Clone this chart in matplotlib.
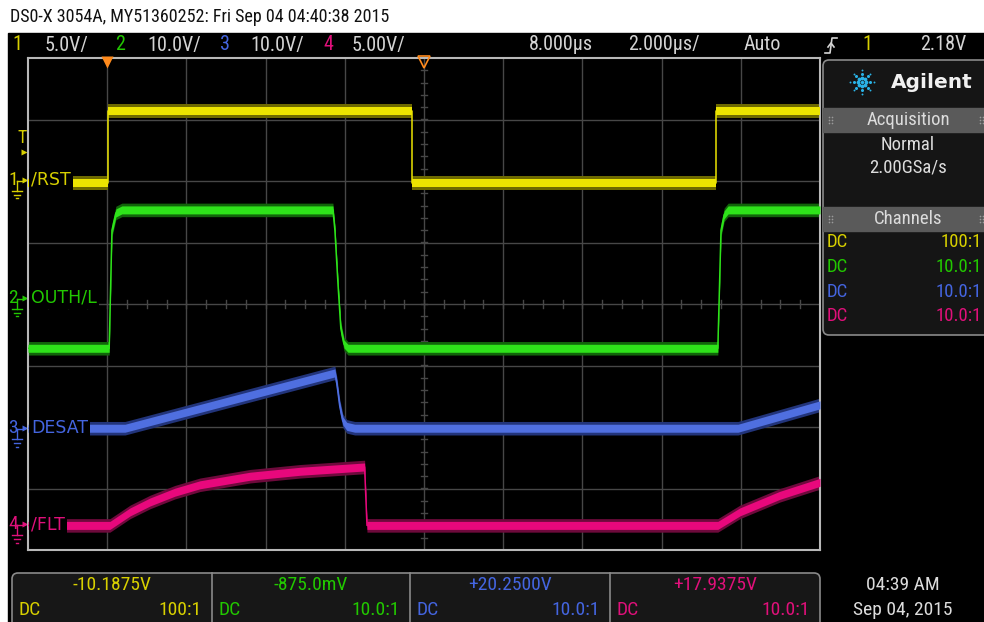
import matplotlib
matplotlib.use("Agg")
import matplotlib.pyplot as plt
from matplotlib import font_manager as fm
from matplotlib.patches import Rectangle, FancyBboxPatch
from matplotlib.transforms import blended_transform_factory
import numpy as np

W, H = 984, 622

# screen: 2 us/div, 8 us delay -> -2 .. 18 us; vertical in divisions from centre
t_left, t_right = -2.0, 18.0

rst_t = [-2.0, 0.02, 0.02, 7.70, 7.70, 15.37, 15.37, 18.0]
rst_y = [1.97, 1.97, 3.14, 3.14, 1.97, 1.97, 3.14, 3.14]

outh_t = [-2.0, 0.05, 0.12, 0.22, 0.37, 5.70, 5.75, 5.83, 5.90, 5.98, 6.08, 15.42, 15.50, 15.58, 15.68, 18.0]
outh_y = [-0.72, -0.72, 1.20, 1.48, 1.53, 1.53, 1.20, 0.30, -0.40, -0.65, -0.72, -0.72, 1.20, 1.45, 1.53, 1.53]

desat_t = [-2.0, 0.45, 5.75, 5.80, 5.87, 5.95, 6.05, 6.25, 15.93, 18.0]
desat_y = [-2.02, -2.02, -1.12, -1.30, -1.65, -1.90, -1.99, -2.02, -2.02, -1.64]

flt_t = [-2.0, 0.07, 0.58, 1.08, 1.71, 2.34, 3.61, 4.87, 6.50, 6.56, 15.42, 15.98, 16.99, 18.0]
flt_y = [-3.60, -3.60, -3.38, -3.22, -3.06, -2.94, -2.80, -2.72, -2.65, -3.60, -3.60, -3.38, -3.11, -2.90]

ch_names = ['/RST', 'OUTH/L', 'DESAT', '/FLT']
ch_marks = [2.02, 0.10, -2.02, -3.58]
ch_colors = ['#ece400', '#2ee31a', '#4f6fe0', '#e8087c']
ch_glow = ['#6e6a00', '#11640a', '#22347a', '#6e0a3c']
ch_text = ['#d8d000', '#22c800', '#4465e0', '#e0107a']

ch_scale = ['5.0V/', '10.0V/', '10.0V/', '5.00V/']
meas_vals = ['-10.1875V', '-875.0mV', '+20.2500V', '+17.9375V']
probe = ['100:1', '10.0:1', '10.0:1', '10.0:1']


def narrow_font():
    # the scope uses a condensed face; take whatever condensed sans is installed
    prefs = ['liberation sans narrow', 'dejavu sans condensed', 'roboto condensed',
             'noto sans condensed', 'open sans condensed']
    found = {}
    for f in fm.fontManager.ttflist:
        nm = f.name.lower()
        st = str(f.stretch).lower()
        if f.style != 'normal' or f.weight not in (400, 'normal', 'regular'):
            continue
        if 'narrow' in nm or 'condensed' in nm or st in ('condensed', 'semi-condensed'):
            key = nm if nm in prefs else st
            found.setdefault(key, f.fname)
    for p in prefs + ['condensed', 'semi-condensed']:
        if p in found:
            return fm.FontProperties(fname=found[p]), 1.0
    for f in found.values():
        return fm.FontProperties(fname=f), 1.0
    return fm.FontProperties(family='DejaVu Sans'), 0.8


NARROW, K = narrow_font()


def nt(x, y, s, size, **kw):
    fp = NARROW.copy()
    fp.set_size(size * K)
    return ov.text(x, y, s, fontproperties=fp, va='center', **kw)


fig = plt.figure(figsize=(W / 100, H / 100), dpi=100, facecolor='white')

# overlay in pixel coordinates for the instrument chrome
ov = fig.add_axes([0, 0, 1, 1], zorder=0)
ov.set_xlim(0, W)
ov.set_ylim(H, 0)
ov.axis('off')
ov.add_patch(Rectangle((8, 33), W - 8, H - 33, color='black'))

nt(10, 17, 'DS0-X 3054A, MY51360252: Fri Sep 04 04:40:38 2015', 13, color='#111111')

# top status bar
bar_y = 45
gray = '#d4d4d4'
for i, (x0, xs) in enumerate([(17, 45), (120, 147), (225, 250), (328, 352)]):
    nt(x0, bar_y, str(i + 1), 14.5, color=ch_text[i], ha='center')
    nt(xs, bar_y, ch_scale[i], 14.5, color=gray)
nt(529, bar_y, '8.000µs', 14.5, color=gray)
nt(628, bar_y, '2.000µs/', 14.5, color=gray)
nt(744, bar_y, 'Auto', 14.5, color=gray)
ov.plot([825, 830, 832, 837], [53, 53, 38, 38], color=gray, lw=1.2)
ov.plot([828, 831, 834], [47, 43, 47], color=gray, lw=1.2)
nt(867, bar_y, '1', 14.5, color=ch_text[0], ha='center')
nt(920, bar_y, '2.18V', 14.5, color=gray)

# right side panel
ov.add_patch(FancyBboxPatch((823, 60), 175, 275, boxstyle='round,pad=0,rounding_size=6',
                            facecolor='#151515', edgecolor='#8a8a8a', lw=1.2))
ov.text(932, 82, 'Agilent', color='#f0f0f0', fontsize=14.5, fontweight='bold', va='center', ha='center')
for ang in np.arange(0, 360, 45):
    for r, s in [(4, 5), (8, 4), (12, 2.5)]:
        ov.plot(862 + r * np.cos(np.radians(ang)), 82 + r * np.sin(np.radians(ang)), 'o',
                color='#2ab2e6', ms=s * 0.55, mec='none')
ov.plot(862, 82, 'o', color='#2ab2e6', ms=2.5, mec='none')
for y0, y1, label in [(108, 132, 'Acquisition'), (207, 231, 'Channels')]:
    ym = (y0 + y1) / 2
    ov.add_patch(Rectangle((823, y0), 175, y1 - y0, color='#5a5a5a'))
    nt(908, ym, label, 13.5, color='#dcdcdc', ha='center')
    for dx in (829, 980):
        ov.plot([dx, dx + 3] * 3, [ym - 3] * 2 + [ym] * 2 + [ym + 3] * 2,
                'o', color='#9a9a9a', ms=1.2, mec='none')
nt(908, 145, 'Normal', 13.5, color='#dcdcdc', ha='center')
nt(908, 168, '2.00GSa/s', 13.5, color='#dcdcdc', ha='center')
for i, yy in enumerate([242, 267, 292, 316]):
    nt(827, yy, 'DC', 13.5, color=ch_text[i])
    nt(982, yy, probe[i], 13.5, color=ch_text[i], ha='right')

# bottom measurement boxes
ov.add_patch(FancyBboxPatch((12, 573), 808, 60, boxstyle='round,pad=0,rounding_size=6',
                            facecolor='#171717', edgecolor='#8a8a8a', lw=1.2))
for xd in (212, 410, 610):
    ov.plot([xd, xd], [573, H], color='#8a8a8a', lw=1.2)
for i, (x0, x1) in enumerate([(12, 212), (212, 410), (410, 610), (610, 820)]):
    nt((x0 + x1) / 2, 585, meas_vals[i], 14, color=ch_text[i], ha='center')
    nt(x0 + 7, 610, 'DC', 14, color=ch_text[i])
    nt(x1 - 10, 610, probe[i], 14, color=ch_text[i], ha='right')
nt(903, 585, '04:39 AM', 14, color='#dcdcdc', ha='center')
nt(903, 610, 'Sep 04, 2015', 14, color='#dcdcdc', ha='center')

# scope graticule
ax = fig.add_axes([28 / W, 72 / H, 792 / W, 492 / H], zorder=1)
ax.set_facecolor('black')
ax.set_xlim(t_left, t_right)
ax.set_ylim(-4, 4)
ax.set_xticks([])
ax.set_yticks([])
for sp in ax.spines.values():
    sp.set_color('#b8b8b8')
    sp.set_linewidth(1.5)
for tx in np.arange(t_left + 2, t_right, 2):
    ax.axvline(tx, color='#474747', lw=1, zorder=1)
for dy in range(-3, 4):
    ax.axhline(dy, color='#474747', lw=1, zorder=1)
for tx in np.arange(t_left, t_right, 0.5):
    ax.plot([tx, tx], [-0.06, 0.06], color='#474747', lw=1, zorder=1)
for dy in np.arange(-4, 4, 0.2):
    ax.plot([7.92, 8.08], [dy, dy], color='#474747', lw=1, zorder=1)

traces = [(rst_t, rst_y), (outh_t, outh_y), (desat_t, desat_y), (flt_t, flt_y)]
for i, (tt, yy) in enumerate(traces):
    tt = np.array(tt)
    yy = np.array(yy)
    ax.fill_between(tt, yy - 0.11, yy + 0.11, color=ch_glow[i], lw=0, zorder=2)
    ax.fill_between(tt, yy - 0.065, yy + 0.065, color=ch_colors[i], lw=0, zorder=3)
    ax.plot(tt, yy, color=ch_colors[i], lw=1.1, zorder=3)
    ax.text(-1.93, ch_marks[i], ch_names[i], color=ch_text[i], family='DejaVu Sans', fontsize=12.5,
            va='center', ha='left', zorder=5, bbox=dict(facecolor='black', edgecolor='none', pad=1.5))

# trigger point / delay markers
ax.plot(0, 3.94, 'v', color='#ff8a1c', ms=8, mec='none', zorder=6, clip_on=False)
ax.plot(8, 3.94, 'v', mfc='none', mec='#ff8a1c', mew=1.2, ms=8, zorder=6, clip_on=False)

# left channel markers
tr = blended_transform_factory(ov.transData, ax.transData)
for i, g in enumerate(ch_marks):
    c = ch_text[i]
    mk = nt(13, g, str(i + 1), 14, color=c, ha='center')
    mk.set_transform(tr)
    ov.plot([24.5], [g], '>', color=c, ms=5, mec='none', transform=tr)
    ov.plot([17, 22], [g - 0.02, g - 0.02], color=c, lw=1, transform=tr)
    ov.plot([17, 17], [g - 0.02, g - 0.18], color=c, lw=1, transform=tr)
    ov.plot([12, 22], [g - 0.18, g - 0.18], color=c, lw=1, transform=tr)
    ov.plot([14, 20], [g - 0.24, g - 0.24], color=c, lw=1, transform=tr)
    ov.plot([16, 18], [g - 0.30, g - 0.30], color=c, lw=1, transform=tr)
tm = nt(22, 2.70, 'T', 13, color=ch_text[0], ha='center')
tm.set_transform(tr)
ov.plot([24], [2.47], '>', color=ch_text[0], ms=5, mec='none', transform=tr)

fig.savefig('out.png', dpi=100, facecolor='white')
